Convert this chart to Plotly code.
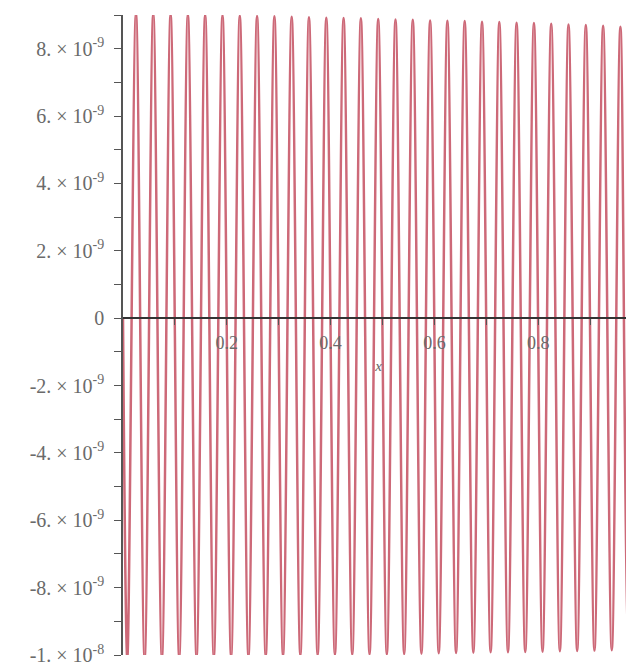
import plotly.graph_objects as go

# Extrema (x position, value)
trough_x = [0.0083, 0.0417, 0.0750, 0.1083, 0.1417, 0.1750, 0.2083, 0.2417, 0.2750, 0.3083,
            0.3417, 0.3750, 0.4083, 0.4417, 0.4750, 0.5083, 0.5417, 0.5750, 0.6083, 0.6417,
            0.6750, 0.7083, 0.7417, 0.7750, 0.8083, 0.8417, 0.8750, 0.9083, 0.9417, 0.9750]
trough_y = [-10.10, -10.10, -10.09, -10.08, -10.07, -10.06, -10.05, -10.05, -10.04, -10.03,
            -10.02, -10.01, -10.00, -9.99, -9.98, -9.98, -9.97, -9.96, -9.95, -9.94,
            -9.93, -9.92, -9.92, -9.91, -9.90, -9.89, -9.88, -9.87, -9.86, -9.85]
peak_x = [0.0250, 0.0583, 0.0917, 0.1250, 0.1583, 0.1917, 0.2250, 0.2583, 0.2917, 0.3250,
          0.3583, 0.3917, 0.4250, 0.4583, 0.4917, 0.5250, 0.5583, 0.5917, 0.6250, 0.6583,
          0.6917, 0.7250, 0.7583, 0.7917, 0.8250, 0.8583, 0.8917, 0.9250, 0.9583]
peak_y = [9.05, 9.04, 9.03, 9.02, 9.01, 9.00, 8.98, 8.97, 8.96, 8.95,
          8.93, 8.92, 8.91, 8.90, 8.88, 8.87, 8.86, 8.84, 8.83, 8.82,
          8.80, 8.79, 8.77, 8.76, 8.74, 8.72, 8.70, 8.68, 8.65]
end_x = [0.0, 1.0]
end_y = [0.0, 0.0]
scale = 1e-9

x_ticks = [0.1, 0.2, 0.3, 0.4, 0.5, 0.6, 0.7, 0.8, 0.9]
x_labels = ["", "0.2", "", "0.4", "", "0.6", "", "0.8", ""]
y_ticks = [-10, -9, -8, -7, -6, -5, -4, -3, -2, -1, 0, 1, 2, 3, 4, 5, 6, 7, 8, 9]
y_labels = ["-1. × 10<sup>-8</sup>", "", "-8. × 10<sup>-9</sup>", "", "-6. × 10<sup>-9</sup>", "",
            "-4. × 10<sup>-9</sup>", "", "-2. × 10<sup>-9</sup>", "", "0", "",
            "2. × 10<sup>-9</sup>", "", "4. × 10<sup>-9</sup>", "", "6. × 10<sup>-9</sup>", "",
            "8. × 10<sup>-9</sup>", ""]

pts = sorted(zip(end_x + trough_x + peak_x, end_y + trough_y + peak_y))
xs = [p[0] for p in pts]
ys = [p[1] * scale for p in pts]

fig = go.Figure()
fig.add_trace(go.Scatter(x=xs, y=ys, mode="lines",
                         line=dict(color="rgb(205,105,120)", width=2.5, shape="spline", smoothing=1),
                         showlegend=False, hoverinfo="skip"))

yfont = dict(family="Liberation Serif, DejaVu Serif, serif", size=20, color="#6a6a6a")
xfont = dict(family="Liberation Serif, DejaVu Serif, serif", size=18, color="#6a6a6a")
fig.update_layout(
    width=626, height=657,
    margin=dict(l=115, r=0, t=7, b=10),
    paper_bgcolor="white", plot_bgcolor="white",
    font=yfont,
    xaxis=dict(range=[0, 0.9845], tickvals=x_ticks, ticktext=x_labels,
               showgrid=False, zeroline=False, showline=True, linecolor="#333333", linewidth=1.5,
               ticks="outside", ticklen=6, tickcolor="#555555", tickfont=xfont,
               ticklabelstandoff=2,
               anchor="free", position=10 / 19,
               title=dict(text="<i>x</i>", standoff=8, font=dict(family="Liberation Serif, serif", size=15, color="#666666"))),
    yaxis=dict(range=[-10e-9, 9e-9], tickvals=[v * scale for v in y_ticks], ticktext=y_labels,
               showgrid=False, zeroline=False, showline=True, linecolor="#555555", linewidth=1.5,
               ticks="outside", ticklen=7, tickcolor="#555555", tickfont=yfont,
               ticklabelstandoff=6, ticklabeloverflow="allow"),
)

fig.write_html("out.html")
